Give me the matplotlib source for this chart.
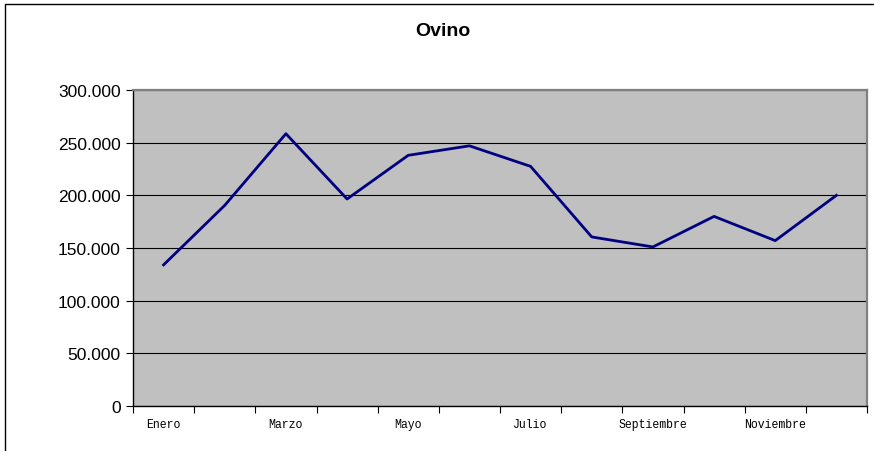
import matplotlib.pyplot as plt
from matplotlib.patches import Rectangle
from matplotlib.ticker import FuncFormatter

meses = ['Enero', 'Febrero', 'Marzo', 'Abril', 'Mayo', 'Junio', 'Julio',
         'Agosto', 'Septiembre', 'Octubre', 'Noviembre', 'Diciembre']
ovino = [134000, 190500, 258500, 196500, 238000, 247000, 227500,
         160500, 151000, 180000, 157000, 200000]

fig = plt.figure(figsize=(8.74, 4.52), dpi=100)
fig.patch.set_facecolor('white')

# marco exterior del gráfico
fig.patches.append(Rectangle((5 / 874, -0.1), 1.2, 1.1 - 5 / 452,
                             transform=fig.transFigure, fill=False,
                             edgecolor='black', linewidth=1.0))

ax = fig.add_axes([133 / 874, 45 / 452, 734 / 874, 316 / 452])
ax.set_facecolor('#C0C0C0')

x = list(range(len(meses)))
ax.plot(x, ovino, color='#000080', linewidth=2.0, zorder=3)

ax.set_xlim(-0.5, len(meses) - 0.5)
ax.set_ylim(0, 300000)
ax.set_yticks(range(0, 300001, 50000))
ax.yaxis.set_major_formatter(FuncFormatter(lambda v, p: f'{int(v):,}'.replace(',', '.')))
ax.grid(axis='y', color='black', linewidth=0.8)
ax.set_axisbelow(True)

# ticks en los límites de categoría, etiquetas en meses alternos
ax.set_xticks([i - 0.5 for i in range(len(meses) + 1)])
ax.set_xticklabels([])
ax.set_xticks(x[::2], minor=True)
ax.set_xticklabels(meses[::2], minor=True, family='Liberation Mono', fontsize=8.3)
ax.tick_params(axis='x', which='major', direction='out', length=5, color='black')
ax.tick_params(axis='x', which='minor', length=0, pad=9)
ax.tick_params(axis='y', direction='out', length=5, pad=4, labelsize=12.5)
for lab in ax.get_yticklabels():
    lab.set_family('Liberation Sans')

for s in ['left', 'bottom']:
    ax.spines[s].set_color('black')
    ax.spines[s].set_linewidth(1.0)
for s in ['top', 'right']:
    ax.spines[s].set_color('#808080')
    ax.spines[s].set_linewidth(1.6)

fig.text(443 / 874, 1 - 32 / 452, 'Ovino', ha='center', va='center',
         fontsize=14, fontweight='bold', family='Liberation Sans')

fig.savefig('out.png', dpi=100)
